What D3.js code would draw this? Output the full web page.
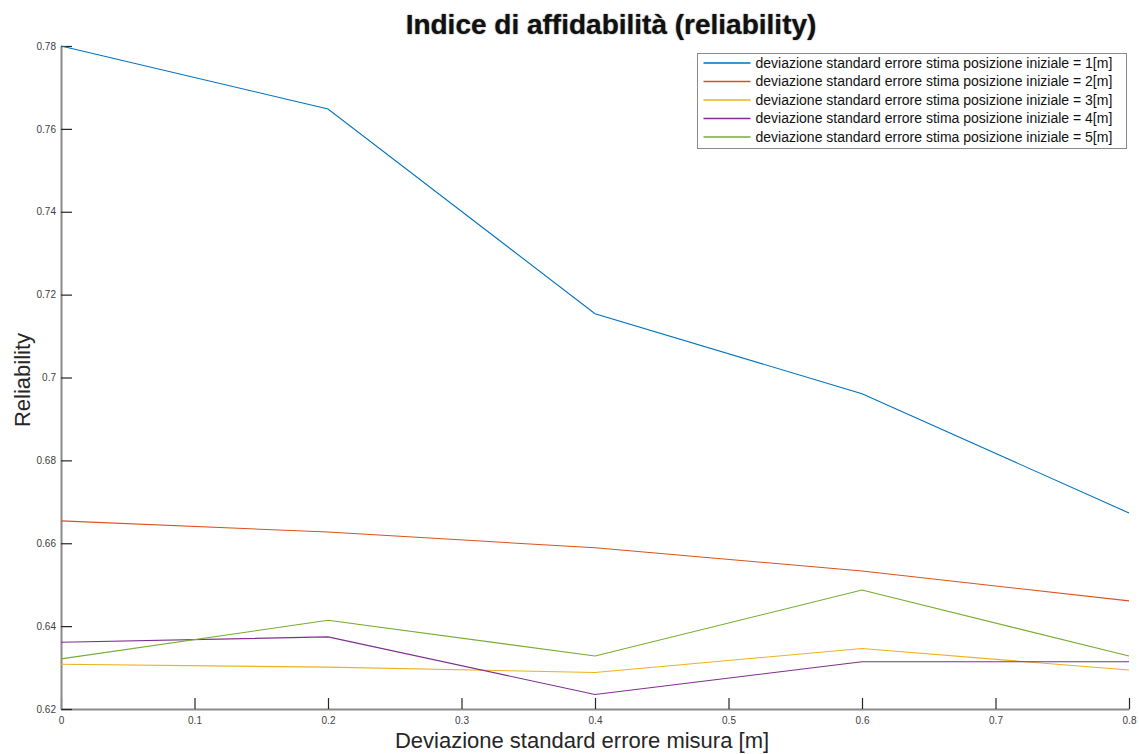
<!DOCTYPE html>
<html>
<head>
<meta charset="utf-8">
<script src="https://cdn.jsdelivr.net/npm/d3@7"></script>
<style>
  html, body { margin: 0; padding: 0; background: #fff; }
  svg { display: block; font-family: "Liberation Sans", Arial, Helvetica, sans-serif; }
</style>
</head>
<body>
<svg id="chart" width="1139" height="754"></svg>
<script>
// Measurement error std. dev. on the x axis
const xValues = [0, 0.2, 0.4, 0.6, 0.8];

// Reliability index, one series per initial-position error std. dev.
const sigma1 = [0.7800, 0.7648, 0.7154, 0.6961, 0.6673];
const sigma2 = [0.6654, 0.6627, 0.6589, 0.6533, 0.6461];
const sigma3 = [0.6308, 0.6301, 0.6288, 0.6346, 0.6294];
const sigma4 = [0.6361, 0.6374, 0.6235, 0.6314, 0.6314];
const sigma5 = [0.6321, 0.6414, 0.6328, 0.6487, 0.6328];

const seriesNames = [
  "deviazione standard errore stima posizione iniziale = 1[m]",
  "deviazione standard errore stima posizione iniziale = 2[m]",
  "deviazione standard errore stima posizione iniziale = 3[m]",
  "deviazione standard errore stima posizione iniziale = 4[m]",
  "deviazione standard errore stima posizione iniziale = 5[m]"
];
const seriesColors = ["#0072BD", "#D95319", "#EDB120", "#7E2F8E", "#77AC30"];

const xTicks = [0, 0.1, 0.2, 0.3, 0.4, 0.5, 0.6, 0.7, 0.8];
const yTicks = [0.62, 0.64, 0.66, 0.68, 0.70, 0.72, 0.74, 0.76, 0.78];

const titleText = "Indice di affidabilità (reliability)";
const xLabelText = "Deviazione standard errore misura [m]";
const yLabelText = "Reliability";

const series = [sigma1, sigma2, sigma3, sigma4, sigma5].map((vals, i) => ({
  name: seriesNames[i],
  color: seriesColors[i],
  points: vals.map((v, j) => ({ x: xValues[j], y: v }))
}));

const svg = d3.select("#chart");
const margin = { left: 61, right: 10, top: 46, bottom: 45 };
const W = 1139, H = 754;

const x = d3.scaleLinear().domain([0, 0.8]).range([margin.left, W - margin.right]);
const y = d3.scaleLinear().domain([0.62, 0.78]).range([H - margin.bottom, margin.top]);

const fmt = d => String(+d.toFixed(2));

// Axes with inward ticks
const xAxis = d3.axisBottom(x).tickValues(xTicks).tickFormat(fmt).tickSizeInner(-11).tickSizeOuter(0).tickPadding(5);
const yAxis = d3.axisLeft(y).tickValues(yTicks).tickFormat(fmt).tickSizeInner(-11).tickSizeOuter(0).tickPadding(5);

const gx = svg.append("g").attr("transform", `translate(0,${y(0.62)})`).call(xAxis);
const gy = svg.append("g").attr("transform", `translate(${x(0)},0)`).call(yAxis);

[gx, gy].forEach(g => {
  g.select(".domain").attr("stroke", "#8a8a8a").attr("stroke-width", 2);
  g.selectAll(".tick line").attr("stroke", "#262626").attr("stroke-width", 1.2);
  g.selectAll(".tick text").attr("fill", "#404040").style("font-size", "10px");
});
gx.selectAll(".tick text").attr("dy", "0.95em");

// Series lines
const line = d3.line().x(d => x(d.x)).y(d => y(d.y));
svg.append("g").selectAll("path")
  .data(series)
  .join("path")
  .attr("d", d => line(d.points))
  .attr("fill", "none")
  .attr("stroke", d => d.color)
  .attr("stroke-width", 1.1);

// Title
svg.append("text")
  .attr("x", 611).attr("y", 34)
  .attr("text-anchor", "middle")
  .style("font-size", "28px").style("font-weight", "bold")
  .style("text-shadow", "0 0 1.5px rgba(0,0,0,0.6)")
  .attr("fill", "#111")
  .text(titleText);

// Axis labels
svg.append("text")
  .attr("x", 582).attr("y", 748)
  .attr("text-anchor", "middle")
  .style("font-size", "22px")
  .attr("fill", "#262626")
  .text(xLabelText);

svg.append("text")
  .attr("transform", "translate(30,380) rotate(-90)")
  .attr("text-anchor", "middle")
  .style("font-size", "22px")
  .attr("fill", "#262626")
  .text(yLabelText);

// Legend
const lg = svg.append("g").attr("transform", "translate(697.5,53.5)");
lg.append("rect")
  .attr("width", 429).attr("height", 95)
  .attr("fill", "#fff").attr("stroke", "#8a8a8a").attr("stroke-width", 1);
const rows = lg.selectAll("g.row").data(series).join("g")
  .attr("class", "row")
  .attr("transform", (d, i) => `translate(0,${9.5 + i * 18.5})`);
rows.append("line")
  .attr("x1", 6).attr("x2", 53)
  .attr("stroke", d => d.color).attr("stroke-width", 1.3);
rows.append("text")
  .attr("x", 58).attr("dy", "0.35em")
  .style("font-size", "14px")
  .attr("fill", "#111")
  .text(d => d.name);
</script>
</body>
</html>
